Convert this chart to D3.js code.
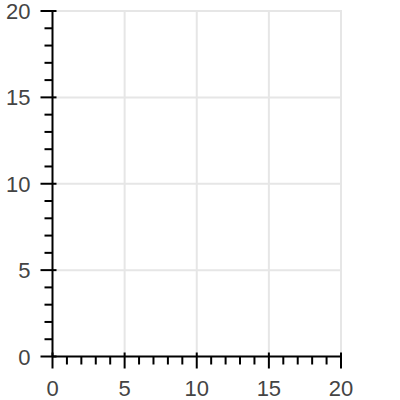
<!DOCTYPE html>
<html>
<head>
<meta charset="utf-8">
<script src="https://cdn.jsdelivr.net/npm/d3@7"></script>
<style>
  html, body { margin: 0; padding: 0; background: #fff; }
  svg { display: block; }
</style>
</head>
<body>
<svg id="chart" width="400" height="400"></svg>
<script>
const xDomain = [0, 20];
const yDomain = [0, 20];
const xTickLabels = [0, 5, 10, 15, 20];
const yTickLabels = [0, 5, 10, 15, 20];
const minorStep = 1;

(function () {
const svg = d3.select("#chart");
const pLeft = 52.5, pRight = 341, pTop = 11, pBottom = 356.5;

const x = d3.scaleLinear().domain(xDomain).range([pLeft, pRight]);
const y = d3.scaleLinear().domain(yDomain).range([pBottom, pTop]);

const xMinor = d3.range(xDomain[0], xDomain[1] + 0.001, minorStep).filter(v => !xTickLabels.includes(v));
const yMinor = d3.range(yDomain[0], yDomain[1] + 0.001, minorStep).filter(v => !yTickLabels.includes(v));

const grid = svg.append("g").attr("stroke", "#e6e6e6").attr("stroke-width", 2);
grid.selectAll(".gx").data(xTickLabels.filter(v => v !== xDomain[0])).join("line")
  .attr("x1", d => x(d)).attr("x2", d => x(d)).attr("y1", y(yDomain[1]) - 1).attr("y2", pBottom);
grid.selectAll(".gy").data(yTickLabels.filter(v => v !== yDomain[0])).join("line")
  .attr("y1", d => y(d)).attr("y2", d => y(d)).attr("x1", pLeft).attr("x2", x(xDomain[1]) + 1);

const ax = svg.append("g").attr("stroke", "#000").attr("stroke-width", 2);
ax.append("line").attr("x1", pLeft).attr("x2", pLeft).attr("y1", y(yDomain[1])).attr("y2", y(yDomain[0]));
ax.append("line").attr("x1", x(xDomain[0])).attr("x2", x(xDomain[1])).attr("y1", pBottom).attr("y2", pBottom);
ax.selectAll(".mx").data(xTickLabels).join("line")
  .attr("x1", d => x(d)).attr("x2", d => x(d)).attr("y1", pBottom - 4).attr("y2", pBottom + 12);
ax.selectAll(".my").data(yTickLabels).join("line")
  .attr("y1", d => y(d)).attr("y2", d => y(d)).attr("x1", pLeft - 12).attr("x2", pLeft + 4);
ax.selectAll(".nx").data(xMinor).join("line")
  .attr("x1", d => x(d)).attr("x2", d => x(d)).attr("y1", pBottom).attr("y2", pBottom + 8);
ax.selectAll(".ny").data(yMinor).join("line")
  .attr("y1", d => y(d)).attr("y2", d => y(d)).attr("x1", pLeft - 8).attr("x2", pLeft);

const font = "Liberation Sans, Arial, Helvetica, sans-serif";
svg.append("g").selectAll("text").data(xTickLabels).join("text")
  .attr("x", d => x(d)).attr("y", 396)
  .attr("text-anchor", "middle")
  .attr("font-family", font).attr("font-size", 22).attr("fill", "#444")
  .text(d => d);
svg.append("g").selectAll("text").data(yTickLabels).join("text")
  .attr("x", 30.5).attr("y", d => y(d) + 8)
  .attr("text-anchor", "end")
  .attr("font-family", font).attr("font-size", 22).attr("fill", "#444")
  .text(d => d);
})();
</script>
</body>
</html>
